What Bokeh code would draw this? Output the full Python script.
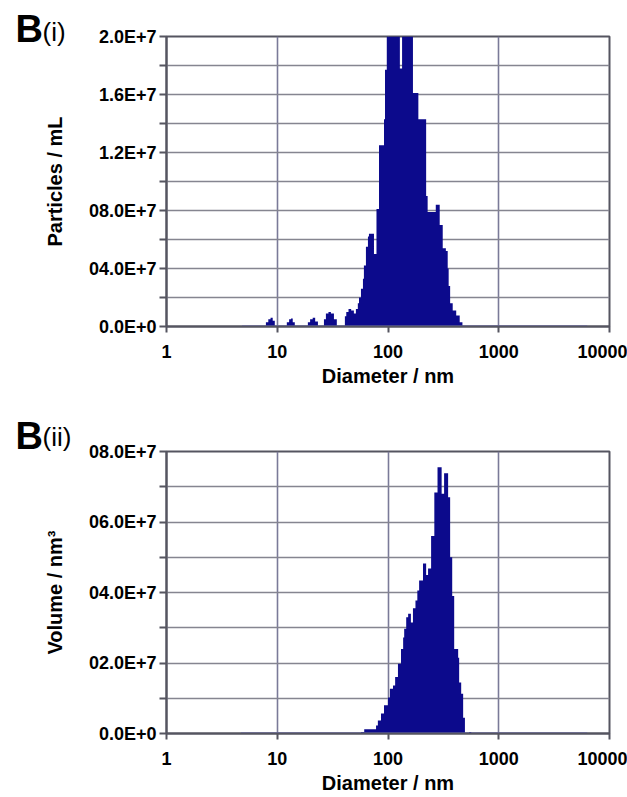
from bokeh.plotting import figure
from bokeh.layouts import column
from bokeh.models import FixedTicker, Label, Range1d
from bokeh.embed import file_html
from bokeh.resources import INLINE

# ---------------- data ----------------
# (i) particle size distribution: diameter (nm, left edge of each step) and
#     concentration in units of 1E+6 particles / mL (axis tops out at 2.0E+7)
diam_i = [4.8, 7.9, 8.3, 8.7, 9.1, 9.5, 12.2, 12.8, 13.3, 13.8, 14.4,
          18.9, 19.8, 20.9, 22.0, 23.3, 26.4, 27.5, 29.0, 30.5, 32.5, 34.5,
          40.8, 42.0, 44.0, 46.5, 49.2, 51.3, 53.4, 54.7, 57.0, 59.4, 60.6,
          63.2, 65.9, 67.3, 74.7, 78.7, 82.9, 92.0, 93.9, 97.5, 128.0, 134.0,
          168.0, 188.0, 221.0, 228.0, 270.0, 293.0, 312.0, 333.0, 346.0,
          353.0, 364.0, 384.0, 413.0, 444.0, 470.0, 6300.0]
count_i = [0.0, 0.3, 0.5, 0.6, 0.4, 0.0, 0.3, 0.5, 0.55, 0.3, 0.0,
           0.3, 0.5, 0.6, 0.35, 0.0, 0.5, 0.9, 1.0, 0.9, 0.5, 0.0,
           0.7, 1.0, 1.2, 1.1, 0.9, 1.2, 1.6, 2.0, 2.6, 3.3, 4.2,
           5.5, 6.2, 6.4, 5.0, 8.1, 12.5, 14.3, 17.7, 20.0, 17.8, 20.0,
           16.1, 14.3, 9.0, 7.9, 8.4, 7.0, 5.4, 5.2, 4.0,
           2.8, 1.6, 1.1, 0.76, 0.3, 0.0, 0.0]

# (ii) volume distribution: diameter (nm) and volume in units of 1E+7 nm^3
diam_ii = [4.7, 57.0, 61.0, 78.0, 81.0, 86.4, 92.0, 100.0, 104.0, 111.0,
           116.0, 123.0, 131.0, 137.0, 140.0, 146.0, 152.0, 161.0, 168.0,
           177.0, 184.0, 191.0, 207.0, 221.0, 230.0, 245.0, 262.0, 280.0,
           305.0, 321.0, 349.0, 364.0, 380.0, 396.0, 430.0, 439.0, 458.0,
           477.0, 495.0, 540.0, 565.0, 6300.0]
volume_ii = [0.0, 0.04, 0.12, 0.23, 0.37, 0.57, 0.8, 1.02, 1.27, 1.36,
             1.6, 1.98, 2.4, 2.72, 2.97, 3.3, 3.4, 3.15, 3.55,
             3.77, 4.06, 4.34, 4.82, 4.5, 4.68, 5.6, 6.84, 7.55,
             6.8, 7.38, 6.7, 5.0, 3.9, 2.4, 2.15, 1.45, 1.13,
             0.45, 0.0, 0.04, 0.0, 0.0]

x_ticks = [1, 10, 100, 1000, 10000]
x_tick_labels = ["1", "10", "100", "1000", "10000"]

y_ticks_i = [0, 2, 4, 6, 8, 10, 12, 14, 16, 18, 20]
y_tick_labels_i = ["0.0E+0", "", "04.0E+7", "", "08.0E+7", "", "1.2E+7", "",
                   "1.6E+7", "", "2.0E+7"]
y_ticks_ii = [0, 1, 2, 3, 4, 5, 6, 7, 8]
y_tick_labels_ii = ["0.0E+0", "", "02.0E+7", "", "04.0E+7", "", "06.0E+7", "",
                    "08.0E+7"]

# ---------------- style ----------------
FONT = "Liberation Sans"
FILL = "#0c0a8c"
BASE = "#6b6bd0"
AXIS = "#555560"
GRID = "#858590"
VGRID = "#7a7a98"


def make_chart(diam, vals, yticks, ylabels, ylabel, height, b_top, b_bottom,
               sub, letter_y, sub_y):
    p = figure(width=627, height=height, x_axis_type="log",
               x_range=Range1d(1, 10000),
               y_range=Range1d(yticks[0], yticks[-1]),
               output_backend="svg", toolbar_location=None,
               min_border_left=166, min_border_right=18,
               min_border_top=b_top, min_border_bottom=b_bottom)
    p.background_fill_color = "white"
    p.border_fill_color = "white"
    p.outline_line_color = AXIS
    p.outline_line_width = 2

    p.varea_step(x=diam, y1=0, y2=vals, step_mode="after",
                 fill_color=FILL, fill_alpha=1)
    p.line(x=[diam[0], diam[-1]], y=[0, 0], line_color=BASE, line_width=2)

    # axes
    p.xaxis.ticker = FixedTicker(ticks=x_ticks)
    p.xaxis.major_label_overrides = dict(zip(x_ticks, x_tick_labels))
    p.yaxis.ticker = FixedTicker(ticks=yticks)
    p.yaxis.major_label_overrides = dict(zip(yticks, ylabels))
    for ax in (p.xaxis[0], p.yaxis[0]):
        ax.axis_line_color = AXIS
        ax.axis_line_width = 2
        ax.major_tick_line_color = AXIS
        ax.major_tick_line_width = 2
        ax.major_tick_in = 0
        ax.minor_tick_line_color = None
        ax.major_label_text_font = FONT
        ax.major_label_text_font_style = "bold"
        ax.major_label_text_font_size = "18px"
        ax.major_label_text_color = "black"
        ax.axis_label_text_font = FONT
        ax.axis_label_text_font_style = "bold"
        ax.axis_label_text_font_size = "20px"
        ax.axis_label_text_color = "black"
    p.xaxis.major_tick_out = 6
    p.xaxis.major_label_standoff = 12
    p.xaxis.axis_label = "Diameter / nm"
    p.xaxis.axis_label_standoff = 4
    p.yaxis.major_tick_out = 7
    p.yaxis.major_label_standoff = 3
    p.yaxis.axis_label = ylabel
    p.yaxis.axis_label_standoff = 20

    # grids
    p.xgrid.ticker = FixedTicker(ticks=x_ticks)
    p.xgrid.grid_line_color = VGRID
    p.xgrid.grid_line_width = 1.6
    p.ygrid.ticker = FixedTicker(ticks=yticks)
    p.ygrid.grid_line_color = GRID
    p.ygrid.grid_line_width = 1.6

    # panel labels, placed in side panels so they are not clipped to the frame
    p.add_layout(Label(x=15, y=letter_y, x_units="canvas", y_units="canvas",
                       text="B", text_font=FONT, text_font_style="bold",
                       text_font_size="38px", text_color="black",
                       text_baseline="alphabetic"), "left")
    p.add_layout(Label(x=42, y=sub_y, x_units="canvas", y_units="canvas",
                       text=sub, text_font=FONT, text_font_size="26px",
                       text_color="black", text_baseline="alphabetic"), "above")
    return p


p1 = make_chart(diam_i, count_i, y_ticks_i, y_tick_labels_i,
                "Particles / mL", 400, 36, 74, "(i)", 28, 31)
p2 = make_chart(diam_ii, volume_ii, y_ticks_ii, y_tick_labels_ii,
                "Volume / nm³", 397, 51, 64, "(ii)", 35, 36)

layout = column(p1, p2, spacing=0)
open("out.html", "w").write(file_html(layout, INLINE))
